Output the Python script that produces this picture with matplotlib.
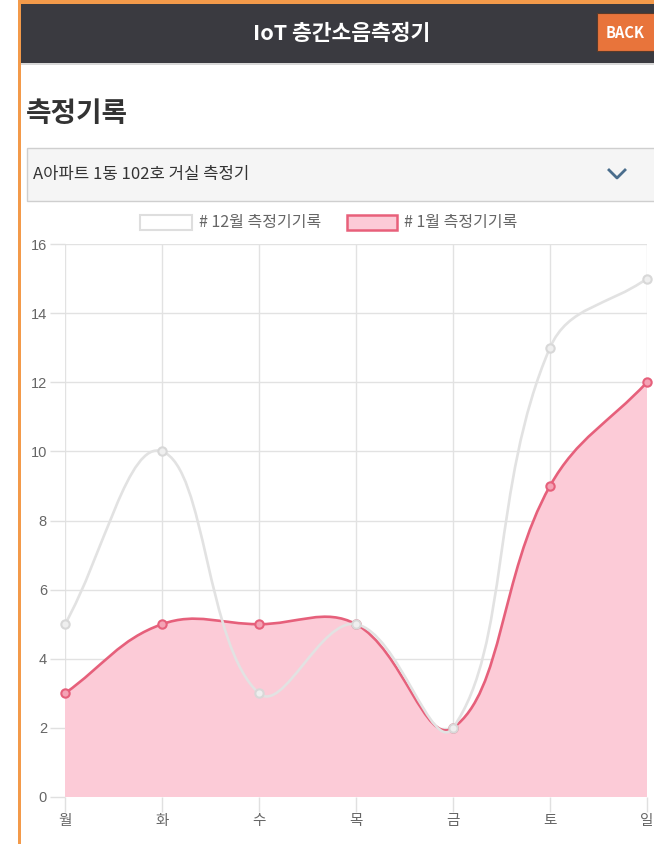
import numpy as np
import matplotlib
matplotlib.use("Agg")
import matplotlib.pyplot as plt
from matplotlib.path import Path
from matplotlib.patches import PathPatch, Rectangle
from matplotlib.lines import Line2D

plt.rcParams['font.family'] = ['Noto Sans CJK KR', 'DejaVu Sans']

# dane do wykresu
days = ['월', '화', '수', '목', '금', '토', '일']
dec_values = [5, 10, 3, 5, 2, 13, 15]
jan_values = [3, 5, 5, 5, 2, 9, 12]
dec_label = '# 12월 측정기기록'
jan_label = '# 1월 측정기기록'
y_ticks = [0, 2, 4, 6, 8, 10, 12, 14, 16]

header_title = 'IoT 층간소음측정기'
page_title = '측정기록'
device_name = 'A아파트 1동 102호 거실 측정기'

W, H = 654, 844
fig = plt.figure(figsize=(W / 100, H / 100), dpi=100)


def fx(px):
    return px / W


def fy(py):
    return 1 - py / H


def frect(x0, y0, x1, y1, **kw):
    fig.patches.append(Rectangle((fx(x0), fy(y1)), fx(x1) - fx(x0), fy(y0) - fy(y1),
                                 transform=fig.transFigure, **kw))


# krzywa jak w chart.js (tension 0.4), liczona w pikselach
def spline(ax, xs, ys, tension=0.4):
    pts = ax.transData.transform(np.column_stack([xs, ys]).astype(float))
    n = len(pts)
    cps = []
    for i in range(n):
        cur = pts[i]
        prev = pts[i - 1] if i > 0 else cur
        nxt = pts[i + 1] if i < n - 1 else cur
        d01 = np.hypot(*(cur - prev))
        d12 = np.hypot(*(nxt - cur))
        tot = d01 + d12
        s01 = d01 / tot if tot else 0
        s12 = d12 / tot if tot else 0
        cps.append((cur - tension * s01 * (nxt - prev), cur + tension * s12 * (nxt - prev)))
    verts = [pts[0]]
    codes = [Path.MOVETO]
    for i in range(1, n):
        verts += [cps[i - 1][1], cps[i][0], pts[i]]
        codes += [Path.CURVE4] * 3
    verts = ax.transData.inverted().transform(np.array(verts))
    verts[:, 1] = np.clip(verts[:, 1], 0, 16)
    return verts, codes


# ramka strony i naglowek
frect(19, 0, 654, 4, facecolor='#f39a4a', edgecolor='none')
frect(18, 0, 21, 844, facecolor='#f39a4a', edgecolor='none')
frect(21, 4, 654, 63, facecolor='#3a3a40', edgecolor='none')
frect(21, 63, 654, 65, facecolor='#d8d8d8', edgecolor='none')
fig.text(fx(342), fy(34), header_title, color='white', fontsize=15.5, fontweight='bold',
         ha='center', va='center')
frect(597, 13, 660, 51, facecolor='#e8743b', edgecolor='#5a3a2a', linewidth=0.8)
fig.text(fx(606), fy(33), 'BACK', color='white', fontsize=10.5, fontweight='bold',
         ha='left', va='center')

fig.text(fx(26), fy(114), page_title, color='#333333', fontsize=20, fontweight='bold',
         ha='left', va='center')

# lista wyboru
frect(27, 148, 660, 201, facecolor='#f5f5f5', edgecolor='#cfcfcf', linewidth=1)
fig.text(fx(33), fy(175), device_name, color='#333333', fontsize=12, ha='left', va='center')
fig.lines.append(Line2D([fx(609), fx(617), fx(625)], [fy(170), fy(178), fy(170)],
                        transform=fig.transFigure, color='#4a6d8c', linewidth=2))

# legenda
frect(140, 215, 192, 230, facecolor='white', edgecolor='#dedede', linewidth=1.5)
fig.text(fx(199), fy(222), dec_label, color='#666666', fontsize=11.5, ha='left', va='center')
frect(347, 215, 397, 230, facecolor='#fccbd7', edgecolor='#e8607a', linewidth=1.8)
fig.text(fx(404), fy(222), jan_label, color='#666666', fontsize=11.5, ha='left', va='center')

# wykres
ax = fig.add_axes([fx(65), fy(797), fx(647) - fx(65), fy(244) - fy(797)])
ax.set_zorder(3)
ax.set_xlim(0, len(days) - 1)
ax.set_ylim(0, 16)
ax.set_facecolor('none')
for s in ax.spines.values():
    s.set_visible(False)
ax.set_xticks(range(len(days)))
ax.set_xticklabels(days)
ax.set_yticks(y_ticks)
ax.set_yticklabels([str(v) for v in y_ticks], family=['Liberation Sans', 'Noto Sans CJK KR'])
ax.tick_params(length=11, width=1, color='#e0e0e0', labelcolor='#666666', labelsize=10.5, pad=2)
ax.tick_params(axis='x', pad=1)
ax.grid(True, color='#e2e2e2', linewidth=1)
ax.set_axisbelow(True)
ax.axhline(0, color='#c0c0c0', linewidth=1.3, zorder=1)

x = np.arange(len(days))

jv, jc = spline(ax, x, jan_values)
fill_verts = np.vstack([jv, [[x[-1], 0], [0, 0], [0, jan_values[0]]]])
fill_codes = jc + [Path.LINETO, Path.LINETO, Path.CLOSEPOLY]
ax.add_patch(PathPatch(Path(fill_verts, fill_codes), facecolor='#fccbd7', edgecolor='none', zorder=2))
ax.add_patch(PathPatch(Path(jv, jc), facecolor='none', edgecolor='#e6607b', linewidth=1.9, zorder=3))
ax.plot(x, jan_values, 'o', color='#f4a3b5', markeredgecolor='#e6607b', markersize=6,
        markeredgewidth=1.5, zorder=4, clip_on=False)

dv, dc = spline(ax, x, dec_values)
ax.add_patch(PathPatch(Path(dv, dc), facecolor='none', edgecolor='#e2e2e2', linewidth=1.9, zorder=5))
ax.plot(x, dec_values, 'o', color='#efefef', markeredgecolor='#d8d8d8', markersize=6,
        markeredgewidth=1.5, zorder=6, clip_on=False)

fig.savefig('out.png', dpi=100)
